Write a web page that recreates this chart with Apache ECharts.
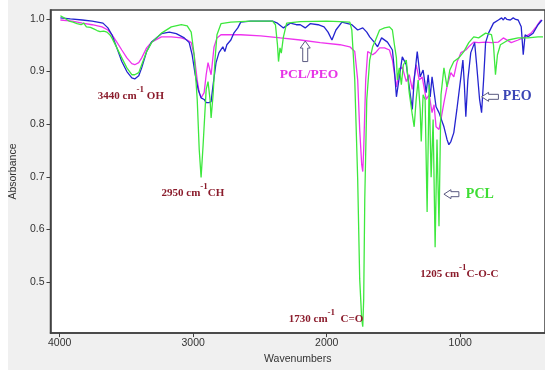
<!DOCTYPE html>
<html><head><meta charset="utf-8">
<script src="https://cdn.jsdelivr.net/npm/echarts@6/dist/echarts.min.js"></script>
<style>
html,body{margin:0;padding:0;background:#fff}
#c{width:545px;height:370px;background:linear-gradient(to right,#fff 8px,#f0f0f0 8px)}
</style>
</head><body><div id="c"></div>
<script>
const xTicks = [1000, 2000, 3000, 4000];
const yTicks = [0.5, 0.6, 0.7, 0.8, 0.9, 1.0];

// [wavenumber (cm-1), absorbance]
const pcl = [
  [3995,1.006],[3960,1.001],[3930,0.996],[3900,0.994],[3870,0.991],[3840,0.989],[3820,0.992],
  [3800,0.985],[3770,0.984],[3745,0.981],[3720,0.978],[3698,0.976],[3670,0.977],[3646,0.975],
  [3625,0.970],[3609,0.964],[3572,0.945],[3535,0.926],[3497,0.907],[3460,0.894],[3438,0.894],
  [3408,0.898],[3386,0.913],[3349,0.938],[3312,0.955],[3238,0.973],[3164,0.985],[3089,0.989],
  [3045,0.987],[3015,0.975],[2993,0.932],[2970,0.847],[2955,0.752],[2941,0.699],[2926,0.760],
  [2903,0.866],[2889,0.881],[2874,0.847],[2866,0.812],[2851,0.856],[2837,0.922],[2822,0.970],
  [2792,0.991],[2718,0.994],[2570,0.996],[2406,0.996],[2384,0.989],[2369,0.951],[2361,0.919],
  [2350,0.945],[2340,0.935],[2325,0.965],[2300,0.992],[2200,0.995],[2000,0.996],[1900,0.995],
  [1827,0.994],[1812,0.979],[1790,0.884],[1768,0.695],[1753,0.506],[1738,0.430],[1730,0.415],
  [1723,0.468],[1715,0.657],[1700,0.847],[1678,0.922],[1656,0.947],[1634,0.960],[1604,0.979],
  [1567,0.983],[1530,0.985],[1508,0.979],[1493,0.951],[1478,0.926],[1471,0.884],[1456,0.907],
  [1441,0.875],[1426,0.913],[1404,0.922],[1382,0.860],[1359,0.818],[1345,0.795],[1330,0.847],
  [1315,0.884],[1300,0.828],[1292,0.767],[1278,0.856],[1263,0.847],[1248,0.633],[1233,0.875],
  [1218,0.699],[1203,0.809],[1188,0.566],[1174,0.771],[1159,0.606],[1144,0.856],[1122,0.907],
  [1099,0.871],[1078,0.903],[1048,0.919],[1010,0.926],[973,0.938],[936,0.955],[899,0.966],
  [862,0.964],[810,0.973],[766,0.970],[751,0.951],[736,0.894],[721,0.932],[699,0.951],
  [640,0.960],[566,0.964],[491,0.964],[417,0.966],[380,0.966]
];
const peo = [
  [3995,1.002],[3921,1.000],[3831,0.998],[3757,0.996],[3676,0.992],[3639,0.983],[3609,0.970],
  [3572,0.945],[3535,0.919],[3497,0.900],[3460,0.888],[3438,0.886],[3408,0.892],[3386,0.907],
  [3349,0.938],[3312,0.956],[3238,0.972],[3179,0.975],[3127,0.972],[3067,0.964],[3030,0.955],
  [3008,0.932],[2985,0.894],[2963,0.866],[2941,0.850],[2918,0.847],[2903,0.841],[2881,0.841],
  [2866,0.843],[2851,0.875],[2829,0.917],[2807,0.936],[2778,0.947],[2763,0.938],[2748,0.951],
  [2718,0.960],[2696,0.973],[2666,0.983],[2644,0.994],[2570,0.996],[2495,0.996],[2406,0.996],
  [2369,0.992],[2324,0.983],[2273,0.992],[2228,0.989],[2198,0.989],[2161,0.983],[2124,0.991],
  [2064,0.989],[2020,0.985],[1990,0.975],[1961,0.960],[1931,0.979],[1886,0.994],[1812,0.989],
  [1768,0.979],[1730,0.983],[1700,0.975],[1678,0.966],[1641,0.955],[1619,0.947],[1589,0.964],
  [1545,0.956],[1508,0.941],[1493,0.903],[1478,0.852],[1456,0.890],[1434,0.928],[1404,0.913],
  [1382,0.871],[1359,0.828],[1345,0.884],[1330,0.919],[1322,0.938],[1300,0.890],[1278,0.903],
  [1255,0.860],[1240,0.894],[1225,0.852],[1211,0.890],[1181,0.833],[1159,0.822],[1122,0.795],
  [1099,0.771],[1085,0.761],[1070,0.767],[1048,0.784],[1025,0.828],[995,0.890],[980,0.922],
  [969,0.875],[958,0.814],[943,0.884],[921,0.936],[892,0.955],[877,0.913],[855,0.847],
  [840,0.822],[825,0.884],[810,0.955],[788,0.973],[751,0.992],[714,0.998],[690,1.002],
  [677,0.998],[665,1.003],[650,0.999],[640,1.002],[625,0.998],[603,1.002],[585,0.999],
  [566,0.998],[543,0.985],[528,0.932],[514,0.970],[491,0.966],[454,0.973],[417,0.989],[387,0.998]
];
const blend = [
  [3995,0.998],[3905,0.996],[3831,0.992],[3757,0.989],[3683,0.985],[3639,0.979],[3609,0.970],
  [3572,0.956],[3535,0.941],[3497,0.926],[3460,0.915],[3438,0.913],[3408,0.917],[3386,0.926],
  [3349,0.945],[3312,0.956],[3238,0.966],[3164,0.966],[3089,0.964],[3045,0.960],[3015,0.955],
  [2993,0.932],[2970,0.884],[2955,0.860],[2941,0.850],[2918,0.860],[2903,0.894],[2889,0.917],
  [2866,0.894],[2844,0.947],[2822,0.964],[2792,0.970],[2644,0.970],[2495,0.968],[2347,0.964],
  [2198,0.960],[2049,0.955],[1901,0.951],[1827,0.947],[1790,0.938],[1768,0.884],[1753,0.790],
  [1738,0.723],[1730,0.710],[1723,0.752],[1708,0.884],[1693,0.938],[1656,0.932],[1634,0.936],
  [1604,0.945],[1567,0.945],[1530,0.941],[1508,0.922],[1478,0.871],[1456,0.903],[1434,0.909],
  [1404,0.881],[1382,0.894],[1359,0.866],[1330,0.913],[1307,0.884],[1285,0.890],[1255,0.847],
  [1233,0.856],[1211,0.822],[1196,0.837],[1181,0.795],[1159,0.790],[1144,0.809],[1122,0.841],
  [1099,0.871],[1070,0.898],[1048,0.890],[1025,0.917],[995,0.936],[958,0.941],[936,0.947],
  [899,0.956],[862,0.955],[810,0.956],[766,0.955],[714,0.956],[677,0.964],[618,0.955],
  [566,0.960],[514,0.966],[469,0.973],[432,0.985],[395,0.998]
];

const seriesNames = ['PCL/PEO', 'PEO', 'PCL'];
const seriesColors = ['#ee33ee', '#2424d0', '#3de83d'];

// annotations: [main text before superscript, superscript, text after, wavenumber, absorbance]
const peakNotes = [
  ['3440 cm', '-1', ' OH', 3467, 0.854],
  ['2950 cm', '-1', 'CH', 3002, 0.669],
  ['1730 cm', '-1', '  C=O', 2005, 0.430],
  ['1205 cm', '-1', 'C-O-C', 1007, 0.515]
];
const labelNotes = [
  ['PCL/PEO', 2132, 0.894, '#e633e6', 13.5],
  ['PEO', 573, 0.852, '#3a45b5', 14],
  ['PCL', 853, 0.667, '#3ddd33', 14]
];
// arrows: [direction, tip wavenumber, tip absorbance, tail wavenumber, tail absorbance]
const arrows = [
  ['up', 2161, 0.958, 2161, 0.919],
  ['left', 840, 0.852, 714, 0.852],
  ['left', 1122, 0.667, 1010, 0.667]
];

const chart = echarts.init(document.getElementById('c'), null, {renderer: 'canvas'});
const axisColor = '#404040';
chart.setOption({
  animation: false,
  backgroundColor: 'transparent',
  grid: {left: 48, top: 10, right: -2, bottom: 36, show: true, backgroundColor: '#fff',
         borderColor: axisColor, borderWidth: 1.5},
  xAxis: {
    type: 'value', inverse: true, min: 365, max: 4069,
    axisLine: {show: true, lineStyle: {color: axisColor, width: 1.5}},
    axisTick: {show: true, customValues: xTicks, length: 4, lineStyle: {color: axisColor}},
    axisLabel: {customValues: xTicks, color: '#333', fontSize: 10.5, fontFamily: 'Liberation Sans', margin: 5,
                formatter: v => String(v)},
    splitLine: {show: false},
    name: 'Wavenumbers', nameLocation: 'middle', nameGap: 20,
    nameTextStyle: {color: '#333', fontSize: 10.5, fontFamily: 'Liberation Sans'}
  },
  yAxis: {
    type: 'value', min: 0.403, max: 1.017,
    axisLine: {show: true, lineStyle: {color: axisColor, width: 1.5}},
    axisTick: {show: true, customValues: yTicks, length: 4, lineStyle: {color: axisColor}},
    axisLabel: {customValues: yTicks, color: '#333', fontSize: 10.5, fontFamily: 'Liberation Sans', margin: 6,
                formatter: v => v.toFixed(1)},
    splitLine: {show: false},
    name: 'Absorbance', nameLocation: 'middle', nameGap: 29,
    nameTextStyle: {color: '#333', fontSize: 10.5, fontFamily: 'Liberation Sans'}
  },
  series: [blend, peo, pcl].map((d, i) => ({
    name: seriesNames[i], type: 'line', data: d, showSymbol: false, silent: true,
    lineStyle: {color: seriesColors[i], width: 1.3}, itemStyle: {color: seriesColors[i]}
  }))
});

const px = (wn, a) => chart.convertToPixel({gridIndex: 0}, [wn, a]);
const graphics = [];
const maroon = '#8b1c2c';
peakNotes.forEach(n => {
  const p = px(n[3], n[4]);
  graphics.push({
    type: 'text', x: p[0], y: p[1], z: 100,
    style: {
      text: n[0] + '{s|' + n[1] + '}' + n[2],
      fill: maroon, fontSize: 11, fontWeight: 'bold', fontFamily: 'Liberation Serif',
      lineHeight: 22, align: 'center', verticalAlign: 'middle',
      textAlign: 'center', textVerticalAlign: 'middle',
      rich: {s: {fontSize: 9, fontWeight: 'bold', fontFamily: 'Liberation Serif', fill: maroon,
                 lineHeight: 9, verticalAlign: 'top'}}
    }
  });
});
labelNotes.forEach(n => {
  const p = px(n[1], n[2]);
  graphics.push({
    type: 'text', x: p[0], y: p[1], z: 100,
    style: {text: n[0], fill: n[3], fontSize: n[4], fontWeight: 'bold', fontFamily: 'Liberation Serif',
            align: 'center', verticalAlign: 'middle', textAlign: 'center', textVerticalAlign: 'middle'}
  });
});
arrows.forEach(a => {
  const t = px(a[1], a[2]), e = px(a[3], a[4]);
  let pts;
  if (a[0] === 'up') {
    const cx = t[0], ty = t[1], by = e[1];
    pts = [[cx, ty], [cx + 5, ty + 7], [cx + 2.5, ty + 7], [cx + 2.5, by], [cx - 2.5, by], [cx - 2.5, ty + 7], [cx - 5, ty + 7]];
  } else {
    const tx = t[0], y = t[1], ex = e[0];
    pts = [[tx, y], [tx + 7, y - 4.5], [tx + 7, y - 2.5], [ex, y - 2.5], [ex, y + 2.5], [tx + 7, y + 2.5], [tx + 7, y + 4.5]];
  }
  graphics.push({type: 'polygon', z: 100, shape: {points: pts},
                 style: {fill: '#fff', stroke: '#5a5a80', lineWidth: 1}});
});
chart.setOption({graphic: graphics});
</script>
</body></html>
